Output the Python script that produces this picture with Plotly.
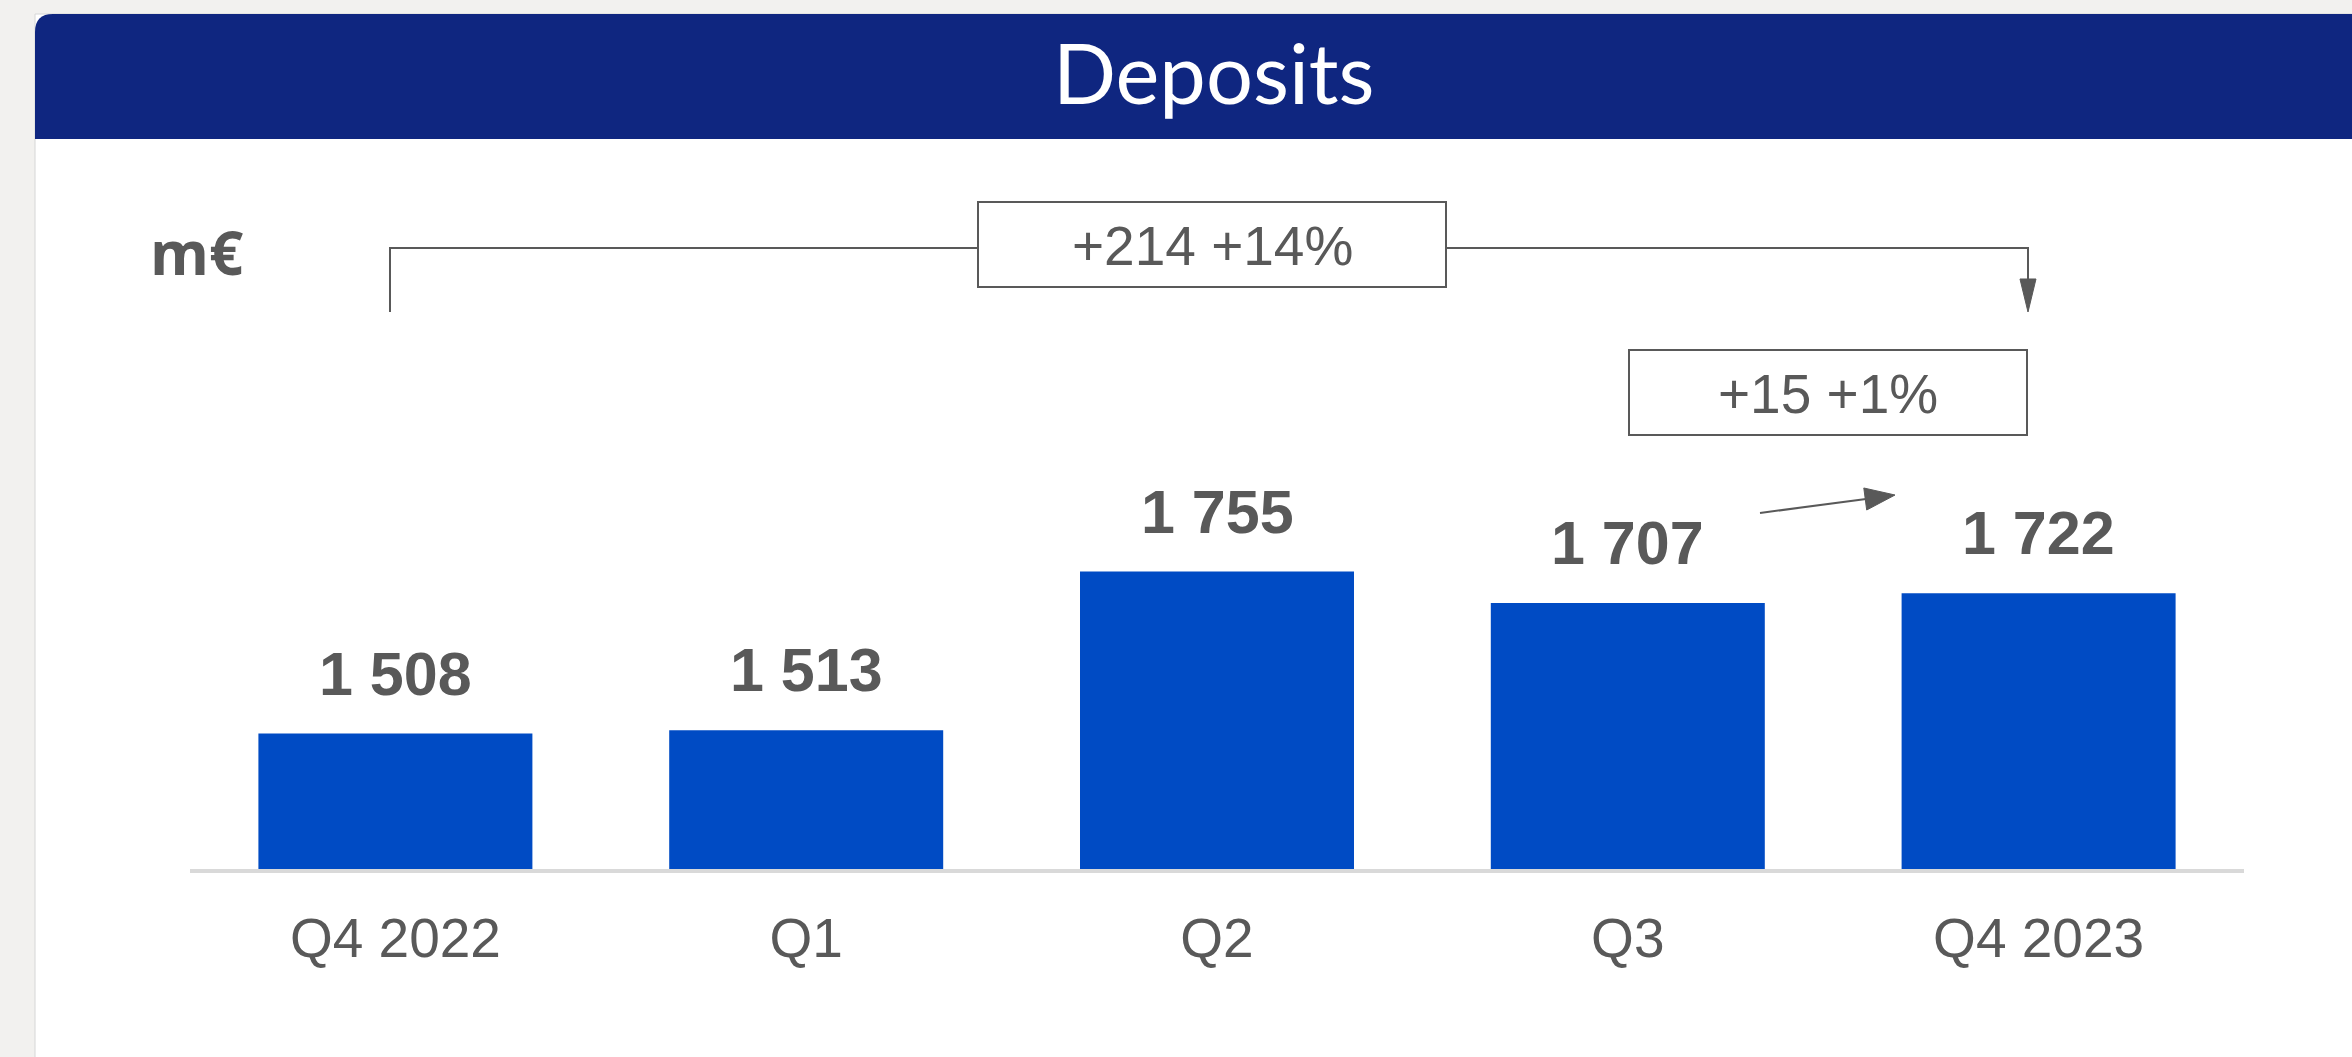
import plotly.graph_objects as go

# ---- data ----
categories = ["Q4 2022", "Q1", "Q2", "Q3", "Q4 2023"]
deposits = [1508, 1513, 1755, 1707, 1722]
title_text = "Deposits"
unit_text = "m€"
change_total = "+214 +14%"
change_quarter = "+15 +1%"

# ---- layout geometry (pixels) ----
W, H = 2352, 1057
L, R, T, B = 190, 108, 200, 187
PW, PH = W - L - R, H - T - B
Y0 = 1300
PPU = 0.656  # pixels per unit
YMAX = Y0 + PH / PPU

GRAY = "#595959"
BAR = "#004BC4"
NAVY = "#0F2680"


def px(x):
    return (x - L) / PW


def py(y):
    return (H - B - y) / PH


def path(points, close=False):
    s = "M " + " L ".join(f"{px(a):.5f},{py(b):.5f}" for a, b in points)
    return s + (" Z" if close else "")


fig = go.Figure()
fig.add_trace(go.Bar(
    x=list(range(len(categories))), y=deposits,
    marker=dict(color=BAR, line=dict(width=0)), width=0.667,
    hoverinfo="skip",
))

shapes = []
# white card
shapes.append(dict(type="rect", xref="paper", yref="paper", layer="below",
                   x0=px(35), x1=px(W + 5), y0=py(H + 5), y1=py(14),
                   fillcolor="white", line=dict(color="#D6D6D6", width=1)))
# navy header with rounded top-left corner
r = 18
hdr = (f"M {px(35):.5f},{py(139):.5f} L {px(35):.5f},{py(14 + r):.5f} "
       f"Q {px(35):.5f},{py(14):.5f} {px(35 + r):.5f},{py(14):.5f} "
       f"L {px(W + 5):.5f},{py(14):.5f} L {px(W + 5):.5f},{py(139):.5f} Z")
shapes.append(dict(type="path", xref="paper", yref="paper", layer="below",
                   path=hdr, fillcolor=NAVY, line=dict(width=0)))
# baseline
shapes.append(dict(type="line", xref="paper", yref="paper", layer="above",
                   x0=0, x1=1, y0=py(871), y1=py(871),
                   line=dict(color="#D9D9D9", width=4)))
# bracket
shapes.append(dict(type="path", xref="paper", yref="paper",
                   path=path([(390, 312), (390, 248), (978, 248)]),
                   line=dict(color=GRAY, width=2)))
shapes.append(dict(type="path", xref="paper", yref="paper",
                   path=path([(1446, 248), (2028, 248), (2028, 285)]),
                   line=dict(color=GRAY, width=2)))
shapes.append(dict(type="path", xref="paper", yref="paper",
                   path=path([(2020, 279), (2036, 279), (2028, 312)], close=True),
                   fillcolor=GRAY, line=dict(color=GRAY, width=1)))
# boxes
shapes.append(dict(type="rect", xref="paper", yref="paper",
                   x0=px(978), x1=px(1446), y0=py(287), y1=py(202),
                   line=dict(color=GRAY, width=2), fillcolor="rgba(0,0,0,0)"))
shapes.append(dict(type="rect", xref="paper", yref="paper",
                   x0=px(1629), x1=px(2027), y0=py(435), y1=py(350),
                   line=dict(color=GRAY, width=2), fillcolor="rgba(0,0,0,0)"))
# small arrow
shapes.append(dict(type="path", xref="paper", yref="paper",
                   path=path([(1760, 513), (1866, 499)]),
                   line=dict(color=GRAY, width=2)))
shapes.append(dict(type="path", xref="paper", yref="paper",
                   path=path([(1866.7, 510), (1863.8, 488), (1895, 495)], close=True),
                   fillcolor=GRAY, line=dict(color=GRAY, width=1)))

annotations = []
for i, v in enumerate(deposits):
    annotations.append(dict(
        x=i, y=v, xref="x", yref="y", text=f"{v:,}".replace(",", " "),
        showarrow=False, yanchor="middle", yshift=60,
        font=dict(family="Liberation Sans, Arial", size=61, color=GRAY, weight="bold")))

annotations.append(dict(x=px(1214), y=py(72), xref="paper", yref="paper",
                        text=title_text, showarrow=False, xanchor="center", yanchor="middle",
                        font=dict(family="Lato", size=83, color="white")))
annotations.append(dict(x=px(148), y=py(252), xref="paper", yref="paper",
                        text=unit_text, showarrow=False, xanchor="left", yanchor="middle",
                        font=dict(family="Open Sans", size=60, color=GRAY, weight="bold")))
annotations.append(dict(x=px(1212), y=py(246), xref="paper", yref="paper",
                        text=change_total, showarrow=False, xanchor="center", yanchor="middle",
                        font=dict(family="Liberation Sans, Arial", size=55, color=GRAY)))
annotations.append(dict(x=px(1828), y=py(394), xref="paper", yref="paper",
                        text=change_quarter, showarrow=False, xanchor="center", yanchor="middle",
                        font=dict(family="Liberation Sans, Arial", size=55, color=GRAY)))

fig.update_layout(
    width=W, height=H,
    margin=dict(l=L, r=R, t=T, b=B, autoexpand=False),
    paper_bgcolor="#F2F1EF", plot_bgcolor="rgba(0,0,0,0)",
    showlegend=False, bargap=0.333,
    shapes=shapes, annotations=annotations,
    xaxis=dict(range=[-0.5, len(categories) - 0.5], tickmode="array",
               tickvals=list(range(len(categories))), ticktext=categories,
               showgrid=False, zeroline=False, showline=False,
               ticks="outside", ticklen=20, tickcolor="rgba(0,0,0,0)",
               tickfont=dict(family="Liberation Sans, Arial", size=55, color=GRAY),
               fixedrange=True),
    yaxis=dict(range=[Y0, YMAX], visible=False, fixedrange=True),
)

fig.write_html("out.html", config={"displayModeBar": False},
               post_script="document.body.style.margin='0';document.body.style.background='#F2F1EF';")
